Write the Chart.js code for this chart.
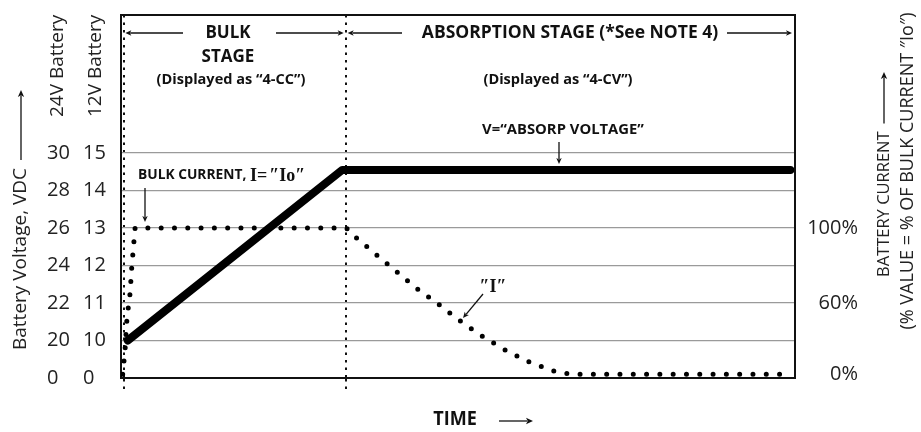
<!DOCTYPE html>
<html>
<head>
<meta charset="utf-8">
<script src="https://cdn.jsdelivr.net/npm/chart.js@4.4.1/dist/chart.umd.min.js"></script>
<style>
  html, body { margin: 0; padding: 0; background: #fff; }
  #wrap { width: 921px; height: 432px; }
</style>
</head>
<body>
<div id="wrap"><canvas id="chart" width="921" height="432"></canvas></div>
<script>
// time has no units in the original; 0..100 across the plot
const stageStarts = [0, 33];                 // bulk, absorption
const voltTime  = [0.5, 32.5, 99.3];
const voltValue = [10, 14.55, 14.55];        // on the 12V scale
const currTime = [-0.25, 0.1, 0.35, 0.6, 0.85, 1.1, 1.6, 33.1, 34.5, 37.5, 40.5, 43.5, 46.6, 49.8, 53.1, 56.6, 60.1, 63.8, 66.5, 99.5];
const currPct  = [0, 20, 44, 57, 65, 79, 100, 100, 95, 86, 77, 68, 60, 46, 33, 21, 11, 3, 0, 0];
const ticks12  = [0, 10, 11, 12, 13, 14, 15];
const ticks24  = [0, 20, 22, 24, 26, 28, 30];
const ticksPct = [0, 60, 100];

const INK = "#111";
const SANS = "'Open Sans', 'Noto Sans', sans-serif";
const SERIF = "'Liberation Serif', 'DejaVu Serif', serif";

// linear scale with a break: values go through piecewise stops before pixels
class BrokenScale extends Chart.LinearScale {
  toUnit(v) {
    const s = this.options.stops;
    let i = 1;
    while (i < s.length - 1 && v > s[i][0]) i++;
    const [v0, u0] = s[i - 1], [v1, u1] = s[i];
    return u0 + (v - v0) * (u1 - u0) / (v1 - v0);
  }
  getPixelForValue(v) {
    if (v === null || v === undefined) return NaN;
    return super.getPixelForValue(this.toUnit(v));
  }
}
BrokenScale.id = "broken";
BrokenScale.defaults = Chart.LinearScale.defaults;
Chart.register(BrokenScale);

const setTicks = (arr) => (scale) => { scale.ticks = arr.map(v => ({ value: v })); };
const tickFont = { family: SANS, size: 20 };

function yAxis(pos, stops, ticks, fmt, width, weight) {
  return {
    type: "broken", position: pos, weight, stops, min: 0, max: 9.68,
    afterBuildTicks: setTicks(ticks),
    afterFit: (s) => { s.width = width; },
    grid: { display: false },
    border: { display: false },
    ticks: { color: "#222", font: tickFont, crossAlign: "far", callback: fmt }
  };
}

const y24 = yAxis("left", [[0, 0], [20, 1], [30, 6]], ticks24, v => String(v), 36, 2);
const y12 = yAxis("left", [[0, 0], [10, 1], [15, 6]], ticks12, v => String(v), 38, 1);
y12.grid = { display: true, drawTicks: false, color: c => c.tick && c.tick.value === 0 ? "transparent" : "#9a9a9a", lineWidth: 1.3 };
y12.border = { display: true, color: INK, width: 2 };
const yI = yAxis("right", [[0, 0.1], [60, 2], [100, 4]], ticksPct, v => v + "%", 63, 1);
yI.border = { display: true, color: INK, width: 2 };

function drawText(ctx, str, x, y, font, align, rot, sx) {
  ctx.save();
  ctx.translate(x, y);
  if (rot) ctx.rotate(rot);
  if (sx) ctx.scale(sx, 1);
  ctx.font = font;
  ctx.textAlign = align || "center";
  ctx.textBaseline = "middle";
  ctx.fillText(str, 0, 0);
  const w = ctx.measureText(str).width * (sx || 1);
  ctx.restore();
  return w;
}

function arrow(ctx, x1, y1, x2, y2, head) {
  const h = head || 6, ang = Math.atan2(y2 - y1, x2 - x1);
  ctx.save();
  ctx.strokeStyle = INK; ctx.fillStyle = INK; ctx.lineWidth = 1.3;
  ctx.beginPath();
  ctx.moveTo(x1, y1);
  ctx.lineTo(x2 - Math.cos(ang) * h * 0.8, y2 - Math.sin(ang) * h * 0.8);
  ctx.stroke();
  ctx.translate(x2, y2); ctx.rotate(ang);
  ctx.beginPath();
  ctx.moveTo(0, 0); ctx.lineTo(-h, -h * 0.45); ctx.lineTo(-h * 0.75, 0); ctx.lineTo(-h, h * 0.45);
  ctx.closePath(); ctx.fill();
  ctx.restore();
}

const notes = {
  id: "notes",
  afterDraw(chart) {
    const { ctx, chartArea: a } = chart;
    const x = chart.scales.x, v = chart.scales.y12, I = chart.scales.yI;
    const bold = (s) => "bold " + s + "px " + SANS;
    const up = -Math.PI / 2;
    ctx.save();
    ctx.fillStyle = INK;

    // stage headers
    const b0 = x.getPixelForValue(stageStarts[0]), b1 = x.getPixelForValue(stageStarts[1]);
    const rowY = a.top + 18;
    drawText(ctx, "BULK", 228, rowY, bold(17), "center");
    drawText(ctx, "STAGE", 228, rowY + 24, bold(17), "center");
    drawText(ctx, "(Displayed as \u201c4-CC\u201d)", 231, rowY + 47, bold(15), "center", 0, 0.97);
    arrow(ctx, 183, rowY, b0 + 1, rowY);
    arrow(ctx, 276, rowY, b1 - 2, rowY);
    drawText(ctx, "ABSORPTION STAGE (*See NOTE 4)", 570, rowY, bold(17.5), "center");
    drawText(ctx, "(Displayed as \u201c4-CV\u201d)", 558, rowY + 47, bold(15), "center", 0, 0.97);
    arrow(ctx, 402, rowY, b1 + 2, rowY);
    arrow(ctx, 727, rowY, a.right - 3, rowY);

    // absorption voltage label
    const vy = v.getPixelForValue(voltValue[2]);
    drawText(ctx, "V=\u201cABSORP VOLTAGE\u201d", 563, vy - 40, bold(14.8), "center");
    arrow(ctx, 559, vy - 28, 559, vy - 6);

    // bulk current label
    const iy = I.getPixelForValue(100);
    let cx = 138;
    cx += drawText(ctx, "BULK CURRENT, ", cx, iy - 53, bold(14.5), "left", 0, 0.95);
    cx += drawText(ctx, "I=", cx, iy - 52, "bold 18px " + SERIF, "left");
    drawText(ctx, "\u2033Io\u2033", cx + 2, iy - 52, "bold 18px " + SERIF, "left");
    arrow(ctx, 145, iy - 40, 145, iy - 6);

    // "I" on the taper
    drawText(ctx, "\u2033I\u2033", 493, 287, "bold 18px " + SERIF, "center");
    arrow(ctx, 483, 294, 463, 318);

    // time axis
    drawText(ctx, "TIME", 455, 420, bold(19), "center", 0, 0.95);
    arrow(ctx, 499, 421, 533, 421, 7);

    // axis titles
    ctx.fillStyle = "#222";
    drawText(ctx, "24V Battery", 58, 117, "19px " + SANS, "left", up);
    drawText(ctx, "12V Battery", 96, 117, "19px " + SANS, "left", up);
    const w1 = drawText(ctx, "Battery Voltage, VDC", 21, 350, "19px " + SANS, "left", up);
    arrow(ctx, 21, 350 - w1 - 8, 21, 90, 7);
    const w2 = drawText(ctx, "BATTERY CURRENT", 884, 277, "16.5px " + SANS, "left", up);
    arrow(ctx, 884, 277 - w2 - 8, 884, 72, 7);
    drawText(ctx, "(% VALUE = % OF BULK CURRENT \u2033Io\u2033)", 908, 171, "18px " + SANS, "center", up);
    ctx.restore();
  }
};

new Chart(document.getElementById("chart"), {
  type: "line",
  data: {
    datasets: [
      {
        label: "Battery voltage",
        data: voltTime.map((t, i) => ({ x: t, y: voltValue[i] })),
        yAxisID: "y12",
        borderColor: "#000",
        borderWidth: 8,
        borderCapStyle: "round",
        borderJoinStyle: "round",
        pointRadius: 0
      },
      {
        label: "Battery current",
        data: currTime.map((t, i) => ({ x: t, y: currPct[i] })),
        yAxisID: "yI",
        borderColor: "#000",
        borderWidth: 5,
        borderDash: [0, 13.3],
        borderCapStyle: "round",
        pointRadius: 0
      }
    ]
  },
  options: {
    responsive: false,
    animation: false,
    layout: { padding: { left: 47, right: 63, top: 15, bottom: 0 } },
    plugins: { legend: { display: false }, tooltip: { enabled: false } },
    scales: {
      x: {
        type: "linear", min: -0.5, max: 100,
        afterBuildTicks: setTicks(stageStarts),
        afterFit: (s) => { s.height = 54; },
        ticks: { display: false },
        grid: { color: INK, lineWidth: 2, tickLength: 12, tickColor: INK, tickWidth: 2, tickBorderDash: [2.5, 5] },
        border: { display: true, color: INK, width: 2, dash: [2.5, 5] }
      },
      xTop: {
        type: "linear", position: "top", min: -0.5, max: 100,
        afterFit: (s) => { s.height = 0; },
        ticks: { display: false },
        grid: { display: false },
        border: { display: true, color: INK, width: 2 }
      },
      y24, y12, yI
    }
  },
  plugins: [notes]
});
</script>
</body>
</html>
